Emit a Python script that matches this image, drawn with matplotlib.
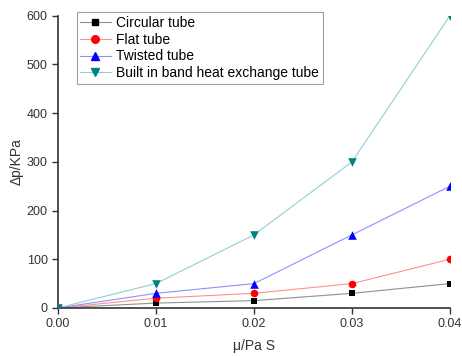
import numpy as np
import matplotlib.pyplot as plt

plt.rcParams['font.family'] = ['Liberation Sans', 'DejaVu Sans']

# podatki
mu = [0.00, 0.01, 0.02, 0.03, 0.04]
circular = [0, 10, 15, 30, 50]
flat = [0, 20, 30, 50, 100]
twisted = [0, 30, 50, 150, 250]
built_in = [0, 50, 150, 300, 600]

fig = plt.figure(figsize=(4.62, 3.56), dpi=100)
ax = fig.add_axes([0.1255, 0.135, 0.8485, 0.821])

ax.plot(mu, circular, color="#909090", lw=0.8, zorder=2)
ax.scatter(mu, circular, marker="s", color="black", s=25, lw=0, zorder=3)
ax.plot(mu, flat, color="#ff9090", lw=0.8, zorder=2)
ax.scatter(mu, flat, marker="o", color="red", s=30, lw=0, zorder=3)
ax.plot(mu, twisted, color="#9090ff", lw=0.8, zorder=2)
ax.scatter(mu, twisted, marker="^", color="blue", s=38, lw=0, zorder=3)
ax.plot(mu, built_in, color="#90d0d0", lw=0.8, zorder=2)
ax.scatter(mu, built_in, marker="v", color="#008080", s=38, lw=0, zorder=3)

# legenda
h1, = ax.plot([], [], "-s", color="#909090", mfc="black", mec="black", ms=5, lw=0.8)
h2, = ax.plot([], [], "-o", color="#ff9090", mfc="red", mec="red", ms=5.5, lw=0.8)
h3, = ax.plot([], [], "-^", color="#9090ff", mfc="blue", mec="blue", ms=6, lw=0.8)
h4, = ax.plot([], [], "-v", color="#90d0d0", mfc="#008080", mec="#008080", ms=6, lw=0.8)
leg = ax.legend([h1, h2, h3, h4],
                ["Circular tube", "Flat tube", "Twisted tube", "Built in band heat exchange tube"],
                loc="upper left", bbox_to_anchor=(0.03, 1.035), fontsize=10,
                fancybox=False, framealpha=1, edgecolor="#a0a0a0",
                handlelength=2.2, handletextpad=0.4, labelspacing=0.2, borderpad=0.25)
leg.get_frame().set_linewidth(0.8)

ax.set_xlim(0, 0.04)
ax.set_ylim(0, 600)
ax.set_xticks([0.00, 0.01, 0.02, 0.03, 0.04])
ax.set_xticklabels(["0.00", "0.01", "0.02", "0.03", "0.04"])
ax.set_yticks([0, 100, 200, 300, 400, 500, 600])
ax.spines["top"].set_visible(False)
ax.spines["right"].set_visible(False)
for s in ["left", "bottom"]:
    ax.spines[s].set_linewidth(1.2)
    ax.spines[s].set_color("#333333")
ax.tick_params(direction="out", length=4, width=1, labelsize=9, colors="#333333")
ax.set_xlabel("μ/Pa S", fontsize=10, color="#333333", labelpad=6)
ax.set_ylabel("Δp/KPa", fontsize=10, color="#333333", labelpad=2)

plt.savefig("out.png", dpi=100)
